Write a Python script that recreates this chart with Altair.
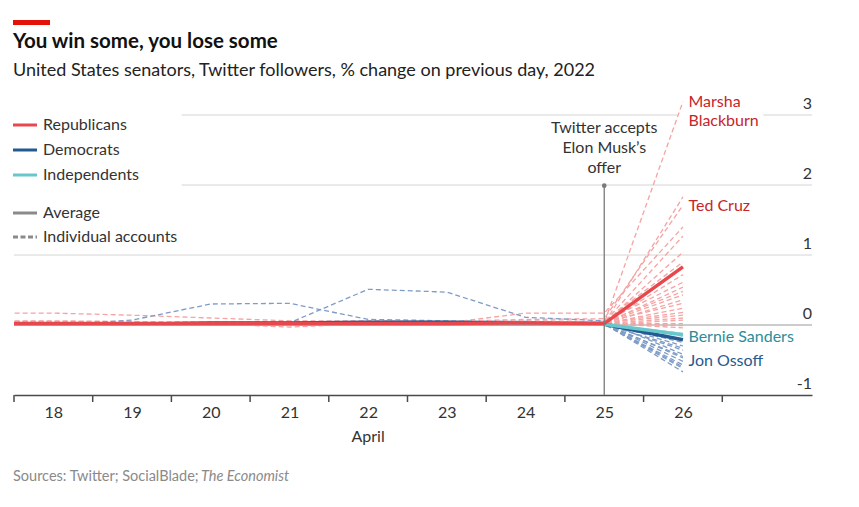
import altair as alt
import pandas as pd

FONT = "Lato"

# ---------------- data ----------------
days = [17, 18, 19, 20, 21, 22, 23, 24, 25, 26]
label_days = [18, 19, 20, 21, 22, 23, 24, 25, 26]
tick_days = [17.5, 18.5, 19.5, 20.5, 21.5, 22.5, 23.5, 24.5, 25.5, 26.5]
y_labels = [-1, 0, 1, 2, 3]

rep_avg = [0.02, 0.02, 0.02, 0.02, 0.02, 0.02, 0.02, 0.03, 0.02, 0.83]
dem_avg = [0.01, 0.01, 0.01, 0.03, 0.03, 0.04, 0.04, 0.02, 0.01, -0.21]
ind_avg = [0.01, 0.01, 0.01, 0.01, 0.01, 0.01, 0.01, 0.01, 0.01, -0.14]

rep_blackburn = [0.03, 0.03, 0.02, 0.03, 0.02, 0.02, 0.03, 0.02, 0.03, 3.19]
rep_cruz = [0.02, 0.02, 0.03, 0.02, 0.03, 0.02, 0.02, 0.03, 0.02, 1.83]
rep_others = [
    [0.17, 0.17, 0.14, 0.10, 0.06, 0.05, 0.05, 0.08, 0.09, 1.71],
    [0.03, 0.03, 0.02, 0.02, -0.03, 0.02, 0.03, 0.17, 0.17, 1.40],
    [0.05, 0.05, 0.04, 0.03, 0.04, 0.03, 0.04, 0.05, 0.04, 1.27],
    [0.02, 0.02, 0.03, 0.01, 0.02, 0.03, 0.02, 0.02, 0.03, 1.04],
    [0.04, 0.04, 0.03, 0.04, 0.03, 0.04, 0.05, 0.04, 0.05, 0.90],
    [0.01, 0.01, 0.02, 0.02, 0.01, 0.02, 0.01, 0.02, 0.02, 0.72],
    [0.06, 0.06, 0.05, 0.04, 0.05, 0.06, 0.05, 0.06, 0.05, 0.61],
    [0.02, 0.02, 0.01, 0.03, 0.02, 0.01, 0.02, 0.03, 0.02, 0.54],
    [0.04, 0.04, 0.03, 0.03, 0.03, 0.04, 0.03, 0.03, 0.04, 0.48],
    [0.03, 0.03, 0.04, 0.02, 0.03, 0.04, 0.03, 0.02, 0.03, 0.43],
    [0.01, 0.01, 0.02, 0.01, 0.01, 0.02, 0.02, 0.01, 0.02, 0.36],
    [0.04, 0.04, 0.03, 0.03, 0.04, 0.03, 0.04, 0.03, 0.04, 0.31],
    [0.02, 0.02, 0.02, 0.03, 0.02, 0.02, 0.03, 0.02, 0.02, 0.24],
    [0.02, 0.02, 0.02, 0.03, 0.02, 0.03, 0.02, 0.02, 0.03, 0.18],
    [0.03, 0.03, 0.03, 0.02, 0.03, 0.03, 0.02, 0.03, 0.03, 0.14],
    [0.03, 0.03, 0.03, 0.02, 0.03, 0.02, 0.03, 0.03, 0.02, 0.10],
    [0.01, 0.01, 0.01, 0.02, -0.01, 0.01, 0.02, 0.01, 0.01, 0.07],
    [0.02, 0.02, 0.03, 0.02, 0.02, 0.03, 0.02, 0.02, 0.02, 0.02],
    [0.03, 0.03, 0.02, 0.03, 0.02, 0.02, 0.03, 0.03, 0.03, -0.01],
    [0.02, 0.02, 0.02, 0.02, 0.03, 0.02, 0.02, 0.02, 0.02, -0.04],
]

dem_ossoff = [0.01, 0.01, 0.01, 0.02, 0.02, 0.01, 0.02, 0.02, 0.02, -0.67]
dem_others = [
    [0.00, 0.00, 0.07, 0.30, 0.31, 0.08, 0.06, 0.05, 0.04, -0.30],
    [0.01, 0.01, 0.01, 0.02, 0.03, 0.51, 0.47, 0.11, 0.06, -0.42],
    [0.02, 0.02, 0.01, 0.02, 0.01, 0.02, 0.02, 0.01, 0.02, -0.25],
    [0.01, 0.01, 0.02, 0.01, 0.02, 0.01, 0.01, 0.02, 0.01, -0.33],
    [0.02, 0.02, 0.02, 0.01, 0.02, 0.02, 0.01, 0.02, 0.02, -0.36],
    [0.01, 0.01, 0.01, 0.02, 0.01, 0.02, 0.02, 0.01, 0.01, -0.45],
    [0.02, 0.02, 0.01, 0.02, 0.02, 0.01, 0.02, 0.02, 0.02, -0.47],
    [0.01, 0.01, 0.02, 0.01, 0.01, 0.02, 0.01, 0.01, 0.02, -0.52],
    [0.02, 0.02, 0.02, 0.02, 0.01, 0.02, 0.02, 0.02, 0.01, -0.57],
    [0.01, 0.01, 0.01, 0.01, 0.02, 0.01, 0.02, 0.01, 0.02, -0.60],
    [0.02, 0.02, 0.01, 0.02, 0.02, 0.02, 0.01, 0.02, 0.01, -0.62],
]
ind_sanders = [0.01, 0.01, 0.01, 0.01, 0.02, 0.01, 0.01, 0.01, 0.01, -0.16]
ind_king = [0.01, 0.01, 0.02, 0.01, 0.01, 0.01, 0.02, 0.01, 0.01, -0.12]

# ---------------- styling ----------------
RED = "#E5484D"
BLUE = "#245A91"
TEAL = "#68C7CB"
RED_LIGHT = "#F5A3A3"
BLUE_LIGHT = "#7E9CC6"
TEAL_LIGHT = "#8FD3D6"
TXT = "#333333"

W, H = 798, 305
X0, X1 = 17.5, 27.64
xs = alt.Scale(domain=[X0, X1], nice=False, zero=False)
ys = alt.Scale(domain=[-1, (325 - 90) / 70], nice=False, zero=False)
x_axis = alt.Axis(values=label_days, format="d", ticks=False, grid=False, title=None,
                  domainColor="#4a4a4a", domainWidth=1.5, labelFontSize=16,
                  labelColor=TXT, labelFont=FONT, labelPadding=9, labelFlush=False)


def X(field):
    return alt.X(field, type="quantitative", scale=xs, axis=x_axis)


def Y(field):
    return alt.Y(field, type="quantitative", scale=ys, axis=None)


def series_df(lists, prefix):
    rows = []
    for i, vals in enumerate(lists):
        for d, v in zip(days, vals):
            rows.append({"sid": f"{prefix}{i}", "day": d, "val": v})
    return pd.DataFrame(rows)


rep_ind_df = series_df([rep_blackburn, rep_cruz] + rep_others, "r")
dem_ind_df = series_df([dem_ossoff] + dem_others, "d")
ind_ind_df = series_df([ind_sanders, ind_king], "i")
dem_avg_df = series_df([dem_avg], "da")
ind_avg_df = series_df([ind_avg], "ia")
rep_avg_df = series_df([rep_avg], "ra")

# grid lines
grid_df = pd.DataFrame({
    "y": [0, 1, 2, 3, 3],
    "x": [X0, X0, 19.63, 19.63, 27.02],
    "x2": [X1, X1, X1, 25.94, X1],
    "c": ["#9a9a9a", "#d4d4d4", "#d4d4d4", "#d4d4d4", "#d4d4d4"],
})
grid = alt.Chart(grid_df).mark_rule(strokeWidth=1).encode(
    x=X("x"), x2="x2", y=Y("y"), color=alt.Color("c:N", scale=None))

ylab_df = pd.DataFrame({"y": y_labels, "t": [str(v) for v in y_labels]})
ylabels = alt.Chart(ylab_df).mark_text(align="right", baseline="alphabetic", dy=-6,
                                       font=FONT, fontSize=16, color=TXT).encode(
    x=alt.value(W), y=Y("y"), text="t:N")

ticks_df = pd.DataFrame({"x": tick_days, "y": [-1] * len(tick_days)})
ticks = alt.Chart(ticks_df).mark_rule(color="#4a4a4a", strokeWidth=1.5).encode(
    x=X("x"), y=Y("y"), y2=alt.value(H + 7))


def lines(df, color, width, dash=None):
    kw = dict(color=color, strokeWidth=width, clip=True)
    if dash:
        kw["strokeDash"] = dash
    return alt.Chart(df).mark_line(**kw).encode(x=X("day"), y=Y("val"), detail="sid:N")


rep_ind = lines(rep_ind_df, RED_LIGHT, 1.3, [5, 3])
dem_ind = lines(dem_ind_df, BLUE_LIGHT, 1.3, [5, 3])
ind_ind = lines(ind_ind_df, TEAL_LIGHT, 1.3, [5, 3])
dem_line = lines(dem_avg_df, BLUE, 3.5)
ind_line = lines(ind_avg_df, TEAL, 3.5)
rep_line = lines(rep_avg_df, RED, 3.5)

# event marker
event_df = pd.DataFrame({"x": [25], "y": [-1], "y2": [1.99]})
event_rule = alt.Chart(event_df).mark_rule(color="#7a7a7a", strokeWidth=1.3).encode(
    x=X("x"), y=Y("y"), y2="y2")
event_dot = alt.Chart(event_df).mark_circle(color="#7a7a7a", size=22, opacity=1).encode(
    x=X("x"), y=Y("y2"))

note_df = pd.DataFrame({"x": [25, 25, 25], "y": [2.81, 2.53, 2.24],
                        "t": ["Twitter accepts", "Elon Musk’s", "offer"]})
note = alt.Chart(note_df).mark_text(align="center", baseline="middle", font=FONT,
                                    fontSize=16, color=TXT).encode(
    x=X("x"), y=Y("y"), text="t:N")

ann_df = pd.DataFrame({
    "x": [26.07, 26.07, 26.07, 26.07, 26.07],
    "y": [3.19, 2.91, 1.70, -0.17, -0.51],
    "t": ["Marsha", "Blackburn", "Ted Cruz", "Bernie Sanders", "Jon Ossoff"],
    "c": ["#C8242B", "#C8242B", "#C8242B", "#2E8C9A", "#285A8E"],
})
ann = alt.Chart(ann_df).mark_text(align="left", baseline="middle", font=FONT,
                                  fontSize=16).encode(
    x=X("x"), y=Y("y"), text="t:N", color=alt.Color("c:N", scale=None))

april_df = pd.DataFrame({"x": [22], "t": ["April"]})
april = alt.Chart(april_df).mark_text(align="center", baseline="middle", font=FONT,
                                      fontSize=16, color=TXT).encode(
    x=X("x"), y=alt.value(H + 42), text="t:N")

# ---------------- chrome (title, legend, source) ----------------
one = pd.DataFrame({"a": [0]})
bar = alt.Chart(one).mark_rect(color="#E3120B").encode(
    x=alt.value(-1), x2=alt.value(36), y=alt.value(-70), y2=alt.value(-65))
title = alt.Chart(one).mark_text(align="left", baseline="alphabetic", font=FONT,
                                 fontSize=20.5, fontWeight="bold", color="#111111",
                                 text="You win some, you lose some").encode(
    x=alt.value(-1), y=alt.value(-42))
subtitle = alt.Chart(one).mark_text(
    align="left", baseline="alphabetic", font=FONT, fontSize=18, color="#222222",
    text="United States senators, Twitter followers, % change on previous day, 2022").encode(
    x=alt.value(-1), y=alt.value(-14))

leg_names = ["Republicans", "Democrats", "Independents", "Average", "Individual accounts"]
leg_colors = [RED, BLUE, TEAL, "#8a8a8a", "#8a8a8a"]
leg_y = [35, 60, 85, 123, 147]
legend_layers = []
for name, col, ly in zip(leg_names, leg_colors, leg_y):
    kw = dict(color=col, strokeWidth=3)
    if name == "Individual accounts":
        kw["strokeDash"] = [5, 2.5]
    legend_layers.append(alt.Chart(one).mark_rule(**kw).encode(
        x=alt.value(-1), x2=alt.value(23), y=alt.value(ly)))
    legend_layers.append(alt.Chart(one).mark_text(
        align="left", baseline="middle", font=FONT, fontSize=16, color=TXT, text=name).encode(
        x=alt.value(29), y=alt.value(ly)))

source1 = alt.Chart(one).mark_text(align="left", baseline="middle", font=FONT, fontSize=14.5,
                                   color="#8a8a8a",
                                   text="Sources: Twitter; SocialBlade;").encode(
    x=alt.value(-1), y=alt.value(387))
source2 = alt.Chart(one).mark_text(align="left", baseline="middle", font=FONT, fontSize=14.5,
                                   fontStyle="italic", color="#8a8a8a",
                                   text="The Economist").encode(
    x=alt.value(187), y=alt.value(387))

chart = alt.layer(
    grid, ylabels, ticks,
    rep_ind, dem_ind, ind_ind, dem_line, ind_line, rep_line,
    event_rule, event_dot, note, ann, april,
    bar, title, subtitle, *legend_layers, source1, source2,
).properties(
    width=W, height=H,
    background="white",
    autosize=alt.AutoSizeParams(type="none"),
    padding={"left": 6, "top": 82, "right": 30, "bottom": 95},
).configure_view(strokeWidth=0)

chart.save("out.html", embed_options={"renderer": "svg", "actions": False})
